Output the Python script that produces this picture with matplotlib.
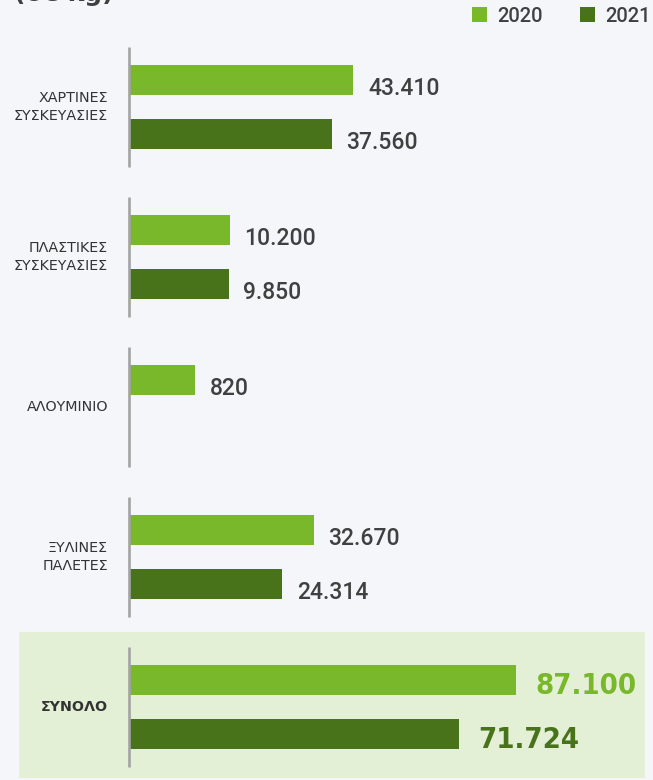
import matplotlib.pyplot as plt
from matplotlib.patches import Rectangle
from matplotlib.transforms import blended_transform_factory

# data (kg)
categories = ["ΧΑΡΤΙΝΕΣ\nΣΥΣΚΕΥΑΣΙΕΣ", "ΠΛΑΣΤΙΚΕΣ\nΣΥΣΚΕΥΑΣΙΕΣ", "ΑΛΟΥΜΙΝΙΟ",
              "ΞΥΛΙΝΕΣ\nΠΑΛΕΤΕΣ", "ΣΥΝΟΛΟ"]
vals_2020 = [43410, 10200, 820, 32670, 87100]
vals_2021 = [37560, 9850, None, 24314, 71724]
years = ["2020", "2021"]

c2020 = "#78b82a"
c2021 = "#48731b"
bg = "#f5f6fa"
txt = "#404040"

W, H = 653, 780
fig = plt.figure(figsize=(W / 100, H / 100), dpi=100, facecolor=bg)
ax = fig.add_axes([0, 0, 1, 1])
ax.set_facecolor(bg)

# bars start a bit left of zero (infographic style)
upp = 268.8          # data units per pixel
off = 63 * upp       # bar start offset
ax.set_xlim(-192 * upp, (W - 192) * upp)
ax.set_ylim((H - 107) / 150, -107 / 150)
ax.axis("off")

fmt = lambda v: f"{v:,}".replace(",", ".")

# total box
ax.add_patch(Rectangle((19 / W, 1 - 778 / H), (645 - 19) / W, (778 - 632) / H,
                       transform=ax.transAxes, facecolor="#e3f0d6",
                       edgecolor="none", zorder=0))

lab_tr = blended_transform_factory(ax.transAxes, ax.transData)
for i, cat in enumerate(categories):
    total = i == len(categories) - 1
    ax.plot([-off, -off], [i - 0.4, i + 0.4], color="#a3a3a3", lw=1.9,
            solid_capstyle="butt", zorder=3)
    ax.text(108 / W, i, cat, transform=lab_tr, ha="right", va="center",
            fontsize=10.3, color="#333333", linespacing=1.35,
            fontweight="bold" if total else "normal", family="DejaVu Sans")
    for v, dy, col in [(vals_2020[i], -0.18, c2020), (vals_2021[i], 0.18, c2021)]:
        if v is None:
            continue
        ax.barh(i + dy, v + off, left=-off, height=0.2, color=col, zorder=2)
        if total:
            ax.annotate(fmt(v), (v, i + dy), xytext=(14, -4.5),
                        textcoords="offset points", ha="left", va="center",
                        fontsize=21, fontweight="bold", color=col,
                        family="DejaVu Sans", fontstretch="condensed")
        else:
            ax.annotate(fmt(v), (v, i + dy), xytext=(10.5, -6),
                        textcoords="offset points", ha="left", va="center",
                        fontsize=16.5, fontweight="medium", color=txt, family="Roboto")

# legend
for x0, col, yr in [(472, c2020, years[0]), (580, c2021, years[1])]:
    fig.add_artist(Rectangle((x0 / W, 1 - 22 / H), 15 / W, 15 / H,
                             transform=fig.transFigure, facecolor=col,
                             edgecolor="none"))
    fig.text((x0 + 25) / W, 1 - 16 / H, yr, ha="left", va="center",
             fontsize=14.5, color=txt, family="Roboto", fontweight="medium")

# cut-off title at the top
fig.text(14 / W, 1 - 1 / H, "(σε kg)", ha="left", va="baseline", fontsize=18,
         fontweight="bold", color=txt, family="DejaVu Sans")

fig.savefig("out.png", dpi=100, facecolor=bg)
